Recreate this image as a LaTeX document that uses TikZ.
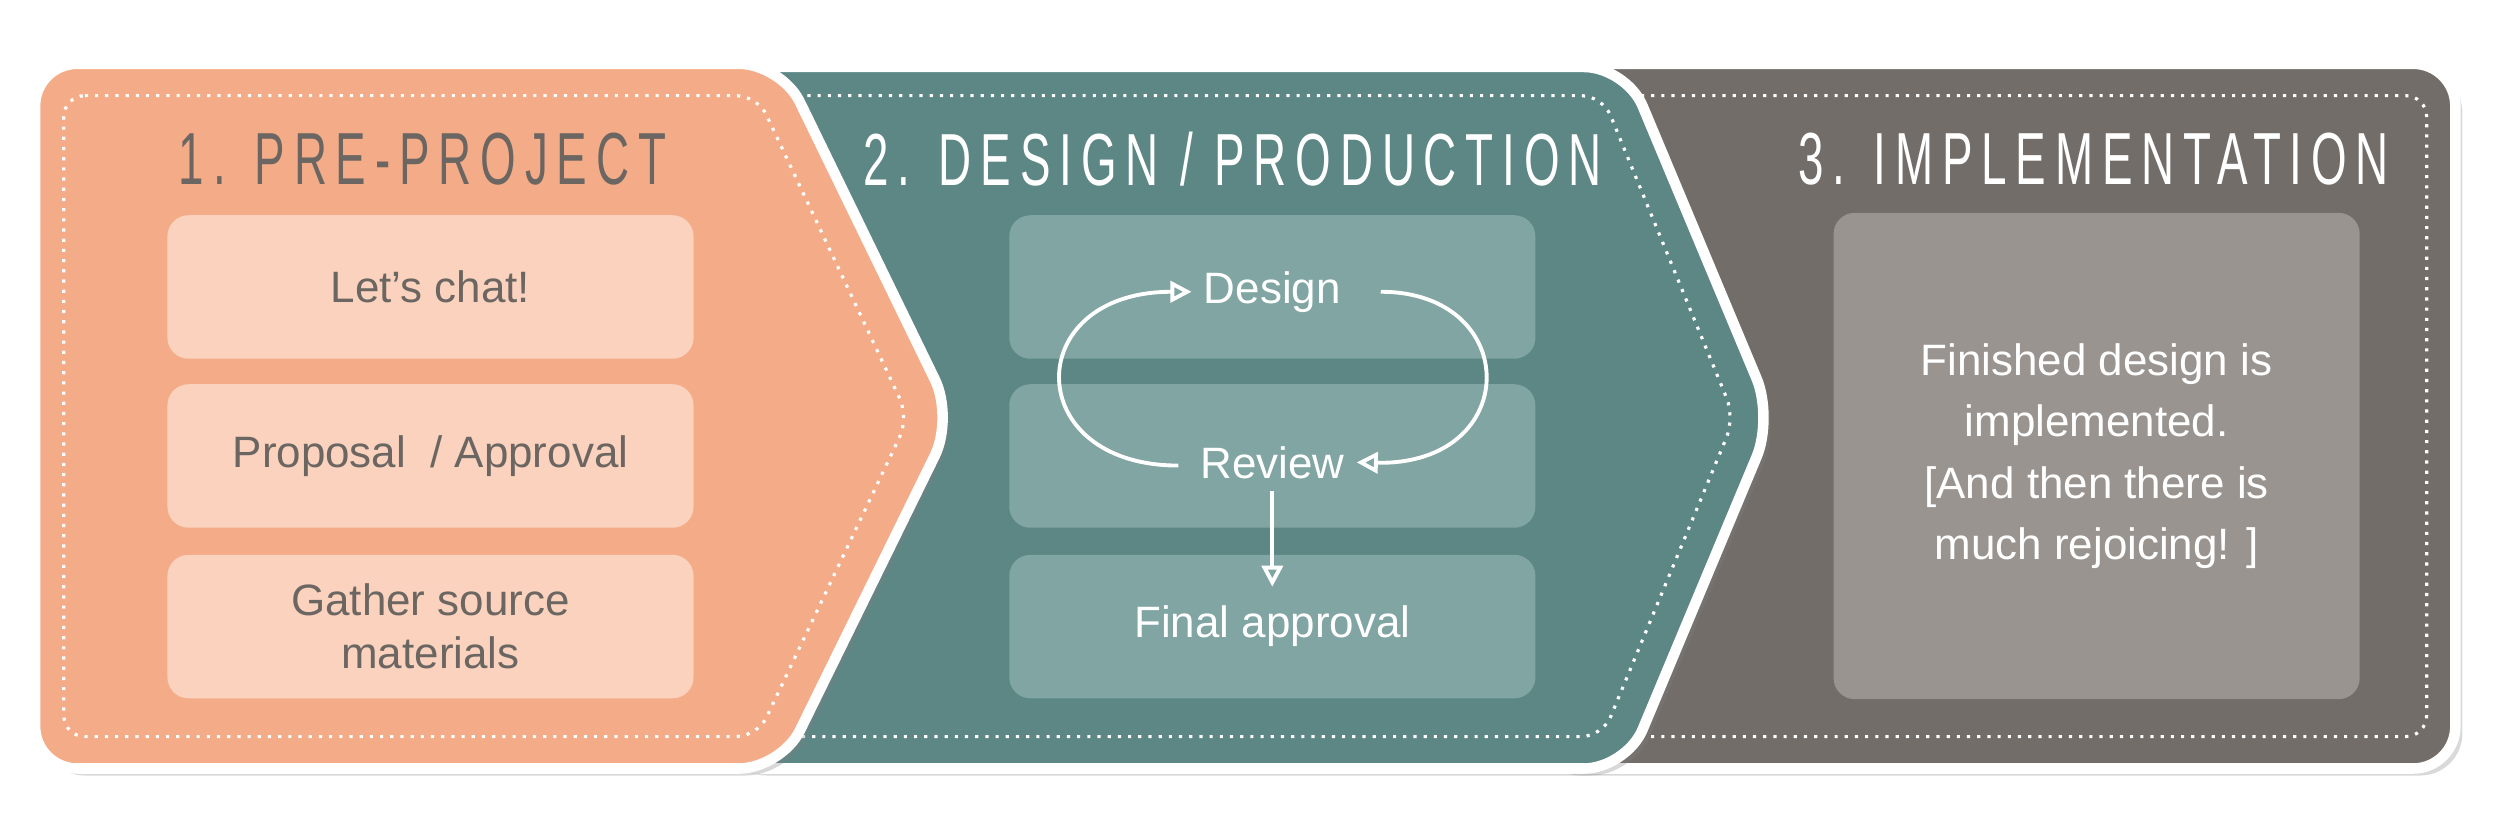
\documentclass[tikz,border=0pt]{standalone}
\usepackage{fontspec}
\setmainfont{Liberation Sans}
\newfontfamily\titlefont[FakeStretch=0.62,LetterSpace=12]{Liberation Sans}
\usetikzlibrary{shadows,arrows.meta}
\definecolor{orng}{HTML}{F4AC88}
\definecolor{orngbox}{HTML}{FAD2BE}
\definecolor{teal1}{HTML}{5C8785}
\definecolor{tealbox}{HTML}{80A5A2}
\definecolor{gry}{HTML}{726D69}
\definecolor{grybox}{HTML}{99948F}
\definecolor{txt}{HTML}{6B6661}
\tikzset{
 panel/.style={draw=white,line width=3pt,rounded corners=12pt,drop shadow={opacity=0.3,shadow xshift=2pt,shadow yshift=-2pt}},
 dots/.style={draw=white,line width=0.9pt,dotted,rounded corners=6pt},
 stagebox/.style={rounded corners=6pt,minimum width=330*0.015944cm,minimum height=90*0.015944cm,align=center,font=\fontsize{12.5}{15}\selectfont},
 ttl/.style={font=\titlefont\fontsize{21}{24}\selectfont},
 loop/.style={draw=white,line width=1.1pt,-{Stealth[length=6pt,width=6pt,inset=0pt,open]}}
}
\begin{document}
\begin{tikzpicture}[x=0.015944cm,y=-0.015944cm]
\useasboundingbox (0,0) rectangle (1568,522);
% gray panel
\path[panel,fill=gry] (960,40) -- (1540,40) -- (1540,482) -- (960,482) -- cycle;
\path[dots] (1010,60) -- (1522,60) -- (1522,462) -- (1010,462);
% teal chevron
\path[panel,fill=teal1] (450,42) -- (1020,42) -- (1112,262) -- (1020,482) -- (450,482) -- cycle;
\path[dots] (500,60) -- (1005,60) -- (1088,262) -- (1005,462) -- (500,462);
% orange chevron
\path[panel,fill=orng] (22,40) -- (490,40) -- (598,262) -- (490,482) -- (22,482) -- cycle;
\path[dots] (40,60) -- (475,60) -- (570,262) -- (475,462) -- (40,462) -- cycle;
% titles
\node[ttl,text=txt] (t1) at (265,100) {1. PRE-PROJECT};
\node[ttl,text=white] (t2) at (773,100) {2. DESIGN / PRODUCTION};
\node[ttl,text=white] (t3) at (1313,100) {3. IMPLEMENTATION};
% orange boxes
\node[stagebox,fill=orngbox,text=txt] (a1) at (270,180) {Let’s chat!};
\node[stagebox,fill=orngbox,text=txt] (a2) at (270,286) {Proposal\ \ / Approval};
\node[stagebox,fill=orngbox,text=txt] (a3) at (270,393) {Gather source\\materials};
% teal boxes
\node[stagebox,fill=tealbox] (b1) at (798,180) {};
\node[stagebox,fill=tealbox] (b2) at (798,286) {};
\node[stagebox,fill=tealbox,text=white] (b3) at (798,393) {Final approval};
\node[text=white,font=\fontsize{12.5}{15}\selectfont] (d) at (798,183) {Design};
\node[text=white,font=\fontsize{12.5}{15}\selectfont] (r) at (798,290) {Review};
% gray box
\node[rounded corners=6pt,fill=grybox,minimum width=330*0.015944cm,minimum height=305*0.015944cm,align=center,text=white,font=\fontsize{12.5}{17.5}\selectfont] (c1) at (1315,286) {Finished design is\\implemented.\\{}[And then there is\\much rejoicing! ]};
% loop arrows
\coordinate (lstart) at (745,292);
\coordinate (rstart) at (866,183);
\draw[loop] (r.west) ++(-6,2) .. controls (640,292) and (640,183) .. (d.west);
\draw[loop] (rstart) .. controls (955,183) and (955,292) .. (r.east);
\draw[loop] (r.south) -- (b3.north |- 0,368);
\end{tikzpicture}
\end{document}
